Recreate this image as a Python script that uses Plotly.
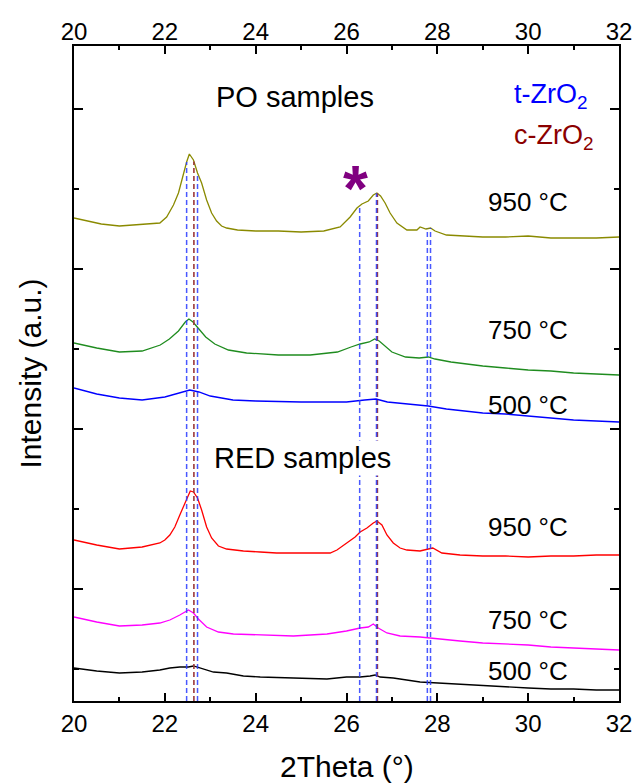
import numpy as np
import plotly.graph_objects as go

FONT = "Liberation Sans, Arial, sans-serif"

# ---------------- data (2Theta in degrees, intensity in a.u.) ----------------
po950_x = [20.0, 20.3, 20.6, 21.0, 21.3, 21.6, 21.89, 22.04, 22.19, 22.30, 22.41, 22.48, 22.54, 22.63,
           22.72, 22.81, 22.92, 23.03, 23.14, 23.25, 23.36, 23.6, 24.0, 24.5, 25.0, 25.5, 25.86, 26.08,
           26.23, 26.34, 26.48, 26.59, 26.67, 26.75, 26.85, 26.96, 27.11, 27.33, 27.55, 27.62, 27.75,
           27.85, 27.95, 28.2, 28.6, 29.0, 29.5, 30.0, 30.5, 31.0, 31.5, 32.0]
po950_y = [451, 448, 445, 443, 444, 445, 446, 452, 464, 476, 496, 507, 515, 509,
           496, 486, 469, 456, 448, 443, 441, 439, 438, 438, 437, 438, 442, 452,
           461, 465, 468, 474, 476, 473, 466, 456, 446, 439, 439, 442, 440,
           441, 438, 434, 433, 432, 432, 433, 431, 431, 431, 432]

po750_x = [20.0, 20.5, 21.0, 21.5, 21.9, 22.1, 22.3, 22.45, 22.53, 22.62, 22.75, 22.9, 23.1, 23.4,
           23.8, 24.5, 25.2, 25.8, 26.1, 26.3, 26.5, 26.62, 26.72, 26.85, 27.0, 27.3, 27.6, 27.8,
           27.95, 28.3, 29.0, 29.5, 30.0, 30.5, 31.0, 31.5, 32.0]
po750_y = [326, 321, 317, 318, 324, 330, 338, 347, 350, 347, 340, 332, 325, 319,
           316, 314, 314, 317, 322, 325, 327, 330, 328, 323, 317, 312, 311, 312,
           310, 307, 303, 301, 299, 298, 296, 295, 294]

po500_x = [20.0, 20.5, 21.0, 21.5, 22.0, 22.3, 22.55, 22.75, 23.0, 23.5, 24.0, 25.0, 26.0, 26.4,
           26.65, 26.9, 27.3, 27.8, 28.2, 28.6, 29.0, 29.5, 30.0, 30.5, 31.0, 31.5, 32.0]
po500_y = [281, 275, 271, 269, 272, 276, 279, 277, 273, 269, 268, 267, 267, 269,
           270, 267, 265, 263, 260, 258, 256, 255, 253, 251, 249, 248, 247]

red950_x = [20.0, 20.5, 21.0, 21.5, 21.89, 22.0, 22.11, 22.22, 22.33, 22.45, 22.56, 22.63, 22.72,
            22.81, 22.92, 23.03, 23.18, 23.36, 23.73, 24.10, 24.46, 24.83, 25.20, 25.57, 25.64,
            25.79, 26.0, 26.19, 26.30, 26.45, 26.59, 26.67, 26.78, 26.89, 27.03, 27.18, 27.33,
            27.62, 27.8, 27.9, 28.1, 28.5, 29.0, 29.5, 30.0, 30.5, 31.0, 31.5, 32.0]
red950_y = [129, 124, 120, 122, 126, 129, 134, 142, 154, 167, 178, 177, 171,
            159, 142, 131, 123, 120, 118, 117, 116, 116, 116, 116, 116,
            119, 126, 132, 137, 141, 146, 148, 144, 134, 126, 121, 119,
            118, 120, 121, 116, 114, 113, 113, 112, 113, 113, 114, 114]

red750_x = [20.0, 20.5, 21.0, 21.5, 21.89, 22.11, 22.33, 22.45, 22.52, 22.63, 22.74, 22.92, 23.18,
            23.51, 24.10, 24.83, 25.57, 26.0, 26.30, 26.48, 26.59, 26.70, 26.89, 27.18, 27.62,
            28.0, 28.5, 29.0, 29.5, 30.0, 30.5, 31.0, 31.5, 32.0]
red750_y = [52, 47, 43, 44, 46, 49, 54, 57, 59, 56, 50, 42, 37,
            35, 34, 33, 35, 38, 41, 42, 45, 41, 36, 33, 32,
            30, 28, 26, 25, 24, 22, 21, 20, 19]

red500_x = [20.0, 20.5, 21.0, 21.5, 21.89, 22.11, 22.33, 22.52, 22.63, 22.70, 22.85, 23.07, 23.36,
            23.73, 24.10, 24.83, 25.57, 26.0, 26.30, 26.52, 26.63, 26.74, 27.03, 27.62, 28.0,
            28.5, 29.0, 29.5, 30.0, 30.5, 31.0, 31.5, 32.0]
red500_y = [1, -2, -4, -3, -1, 1, 2, 2, 3, 2, 0, -3, -4,
            -7, -8, -9, -10, -8, -8, -7, -6, -8, -9, -13, -14,
            -15, -17, -18, -19, -20, -20, -21, -21]

t_zro2_pos = [22.48, 22.72, 26.29, 26.66, 27.78, 27.85]
c_zro2_pos = [22.64, 26.68]

series = [
    (po950_x, po950_y, "#8a8a00", "950 °C", 30.0, 467),
    (po750_x, po750_y, "#1f8c1f", "750 °C", 30.0, 339),
    (po500_x, po500_y, "#0000ff", "500 °C", 30.0, 264),
    (red950_x, red950_y, "#ff0000", "950 °C", 30.0, 142),
    (red750_x, red750_y, "#ff00ff", "750 °C", 30.0, 49),
    (red500_x, red500_y, "#000000", "500 °C", 30.0, -2),
]

Y_MIN, Y_MAX = -32, 623

fig = go.Figure()
for xs, ys, col, _, _, _ in series:
    fig.add_trace(go.Scatter(x=xs, y=ys, mode="lines", line=dict(color=col, width=1.3),
                             showlegend=False, hoverinfo="skip"))

# reference lines from the bottom of the frame up to the PO 950 °C pattern
for pos in c_zro2_pos:
    top = float(np.interp(pos, po950_x, po950_y))
    fig.add_trace(go.Scatter(x=[pos, pos], y=[Y_MIN, top], mode="lines",
                             line=dict(color="#9c3a3a", width=1.6, dash="5px,3px"),
                             showlegend=False, hoverinfo="skip"))
for pos in t_zro2_pos:
    top = float(np.interp(pos, po950_x, po950_y))
    fig.add_trace(go.Scatter(x=[pos, pos], y=[Y_MIN, top], mode="lines", opacity=0.85,
                             line=dict(color="#2a3cff", width=1.5, dash="5px,3px"),
                             showlegend=False, hoverinfo="skip"))

# dummy trace for the top axis
fig.add_trace(go.Scatter(x=[20, 32], y=[None, None], xaxis="x2", mode="lines",
                         showlegend=False, hoverinfo="skip"))

annotations = []
for xs, ys, col, label, lx, ly in series:
    annotations.append(dict(x=lx, y=ly, xref="x", yref="y", text=label, showarrow=False,
                            font=dict(family=FONT, size=26, color="black"),
                            xanchor="center", yanchor="middle"))

annotations += [
    dict(x=24.87, y=572, xref="x", yref="y", text="PO samples", showarrow=False,
         font=dict(family=FONT, size=29, color="black"), xanchor="center", yanchor="middle"),
    dict(x=25.04, y=211, xref="x", yref="y", text="RED samples", showarrow=False,
         bgcolor="white", font=dict(family=FONT, size=29, color="black"),
         xanchor="center", yanchor="middle"),
    dict(x=30.5, y=573, xref="x", yref="y", text="t-ZrO<sub>2</sub>", showarrow=False,
         font=dict(family=FONT, size=27, color="#0000ff"), xanchor="center", yanchor="middle"),
    dict(x=30.57, y=532, xref="x", yref="y", text="c-ZrO<sub>2</sub>", showarrow=False,
         font=dict(family=FONT, size=27, color="#8b0000"), xanchor="center", yanchor="middle"),
    dict(x=26.2, y=480, xref="x", yref="y", text="<b>*</b>", showarrow=False,
         font=dict(family=FONT, size=64, color="#800080"), xanchor="center", yanchor="middle"),
    dict(x=0.5, y=0, xref="paper", yref="paper", text="2Theta (°)", showarrow=False,
         font=dict(family=FONT, size=30, color="black"), xanchor="center", yanchor="middle",
         yshift=-65),
    dict(x=0, y=0.5, xref="paper", yref="paper", text="Intensity (a.u.)", showarrow=False,
         textangle=-90, font=dict(family=FONT, size=30, color="black"),
         xanchor="center", yanchor="middle", xshift=-44),
]

xtick = dict(range=[20, 32], tick0=20, dtick=2, ticks="inside", ticklen=8, tickwidth=2,
             tickcolor="black", showgrid=False, zeroline=False, automargin=False,
             tickfont=dict(family=FONT, size=24, color="black"),
             minor=dict(tick0=20, dtick=1, ticks="inside", ticklen=4, tickwidth=2, tickcolor="black"))

fig.update_layout(
    width=634, height=783, autosize=False,
    margin=dict(l=74, r=15, t=46, b=82, pad=0, autoexpand=False),
    plot_bgcolor="white", paper_bgcolor="white",
    xaxis=dict(**xtick, showline=True, linewidth=2, linecolor="black", mirror=True),
    xaxis2=dict(**xtick, overlaying="x", side="top", showline=False, anchor="y"),
    yaxis=dict(range=[Y_MIN, Y_MAX], tick0=80, dtick=160, ticks="inside", ticklen=9, tickwidth=2,
               tickcolor="black", showticklabels=False, showgrid=False, zeroline=False,
               automargin=False,
               showline=True, linewidth=2, linecolor="black", mirror="ticks",
               minor=dict(tick0=0, dtick=80, ticks="inside", ticklen=5, tickwidth=2,
                          tickcolor="black")),
    annotations=annotations,
)

fig.write_html("out.html")
